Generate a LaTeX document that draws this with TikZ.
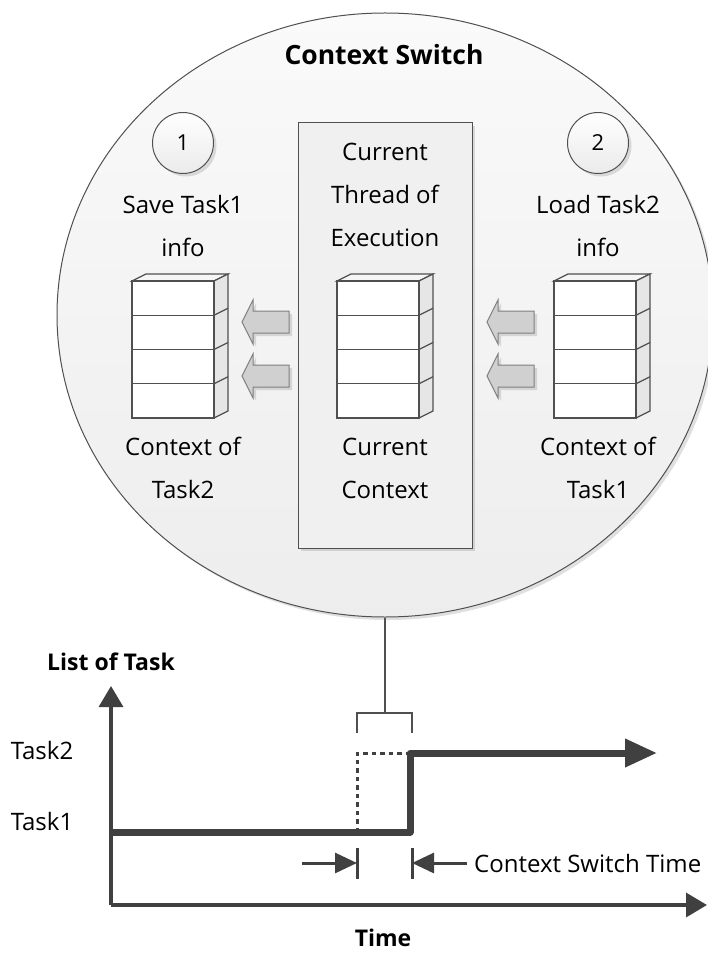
\documentclass[tikz,border=0pt]{standalone}
\usepackage{fontspec}
\setmainfont{Open Sans}
\usetikzlibrary{arrows.meta,shapes.geometric,shadows,positioning}

\definecolor{ink}{HTML}{404040}
\definecolor{rim}{HTML}{505050}
\definecolor{sidegray}{HTML}{E6E6E6}
\definecolor{pushgray}{HTML}{D0D0D0}

\tikzset{
    lbl/.style={font=\fontsize{24pt}{43pt}\selectfont, align=center, inner sep=0pt},
    hdr/.style={font=\fontsize{23pt}{27pt}\selectfont\bfseries, inner sep=0pt},
    soft/.style={drop shadow={shadow xshift=3pt, shadow yshift=-3pt, fill=black, opacity=.12}},
    badge/.style={circle, draw=rim, line width=1pt, minimum size=61pt, top color=white,
        bottom color=black!8, soft, font=\fontsize{22pt}{26pt}\selectfont},
    regstack/.pic={
        \filldraw[draw=rim, line width=1.2pt, fill=black!4] (0,0) -- (14,-7) -- (96,-7) -- (82,0) -- cycle;
        \filldraw[draw=rim, line width=1.2pt, fill=sidegray] (82,0) -- (96,-7) -- (96,130) -- (82,137) -- cycle;
        \foreach \k in {1,2,3} {
            \draw[rim, line width=1.2pt] (0,34.25*\k) -- (82,34.25*\k) -- (96,34.25*\k-7);
        }
        \draw[rim, line width=1.2pt, fill=white] (0,0) rectangle (82,137);
        \foreach \k in {1,2,3} {
            \draw[rim, line width=1.2pt] (0,34.25*\k) -- (82,34.25*\k);
        }
    },
    blockarrow/.pic={
        \filldraw[draw=gray, line width=1pt, fill=pushgray, soft]
            (0,0) -- (11,-22) -- (11,-11) -- (47,-11) -- (47,11) -- (11,11) -- (11,22) -- cycle;
    },
    axis/.style={ink, line width=3.5pt, -{Triangle[length=21pt, width=24pt]}},
    span/.style={ink, line width=3pt, -{Triangle[length=22pt, width=20pt]}},
}

\begin{document}
\begin{tikzpicture}[x=1pt, y=-1pt]
    \useasboundingbox (0,0) rectangle (707,957);

    \node[ellipse, draw=rim, line width=1pt, minimum width=656pt, minimum height=604pt,
        top color=black!2, bottom color=black!7, soft] (cs) at (385,315) {};
    \node[hdr, font=\fontsize{26.5pt}{30pt}\selectfont\bfseries] (title) at (384,55) {Context Switch};

    \node[draw=rim, line width=1pt, fill=black!6, minimum width=174pt, minimum height=425pt,
        soft] (thread) at (385,335.5) {};
    \node[lbl] (exec) at (385,195) {Current\\Thread of\\Execution};

    \node[badge] (one) at (183,143) {1};
    \node[badge] (two) at (598,143) {2};
    \node[lbl, below=21pt of one] (save) {Save Task1\\info};
    \node[lbl, below=21pt of two] (load) {Load Task2\\info};

    \pic at (132,281) {regstack};
    \pic at (337,281) {regstack};
    \pic at (554,281) {regstack};

    \pic at (242,322) {blockarrow};
    \pic at (242,376) {blockarrow};
    \pic at (487,322) {blockarrow};
    \pic at (487,376) {blockarrow};

    \node[lbl] (ctxa) at (183,468) {Context of\\Task2};
    \node[lbl] (ctxc) at (385,468) {Current\\Context};
    \node[lbl] (ctxb) at (598,468) {Context of\\Task1};

    % time chart
    \coordinate (org) at (111,905);
    \coordinate (ytip) at (111,686);
    \coordinate (xtip) at (707,905);
    \coordinate (t1) at (111,832);
    \coordinate (sw) at (357,832);
    \coordinate (up) at (410,832);
    \coordinate (hi) at (410,753);
    \coordinate (run) at (657,753);
    \draw[axis] (org) -- (ytip);
    \draw[axis] (org) -- (xtip);
    \node[hdr] (lst) at (111,662) {List of Task};
    \node[hdr] (time) at (383,938) {Time};
    \node[lbl] (task2) at (42,750) {Task2};
    \node[lbl] (task1) at (42,821) {Task1};

    \draw[ink, line width=3pt, dash pattern=on 4.5pt off 4pt] (sw) -- (sw |- hi) -- (hi);
    \draw[ink, line width=7pt, line join=round, -{Triangle[length=32pt, width=27pt]}]
        (t1) -- (up) -- (hi) -- (run);

    \coordinate (bl) at (357,733);
    \coordinate (br) at (412,733);
    \coordinate (bm) at (385,713);
    \draw[rim, line width=1.5pt] (bl) |- (bm) -| (br);
    \draw[rim, line width=1.5pt] (bm) -- (cs.south);

    \coordinate (ta) at (357,848);
    \coordinate (tb) at (357,879);
    \coordinate (tc) at (412,848);
    \coordinate (td) at (412,879);
    \draw[ink, line width=3pt] (ta) -- (tb);
    \draw[ink, line width=3pt] (tc) -- (td);
    \coordinate (fa) at (302,863);
    \coordinate (fb) at (467,863);
    \draw[span] (fa) -- (fa -| ta);
    \draw[span] (fb) -- (fb -| tc);
    \node[lbl, anchor=west] (cst) at (474,863) {Context Switch Time};
\end{tikzpicture}
\end{document}
